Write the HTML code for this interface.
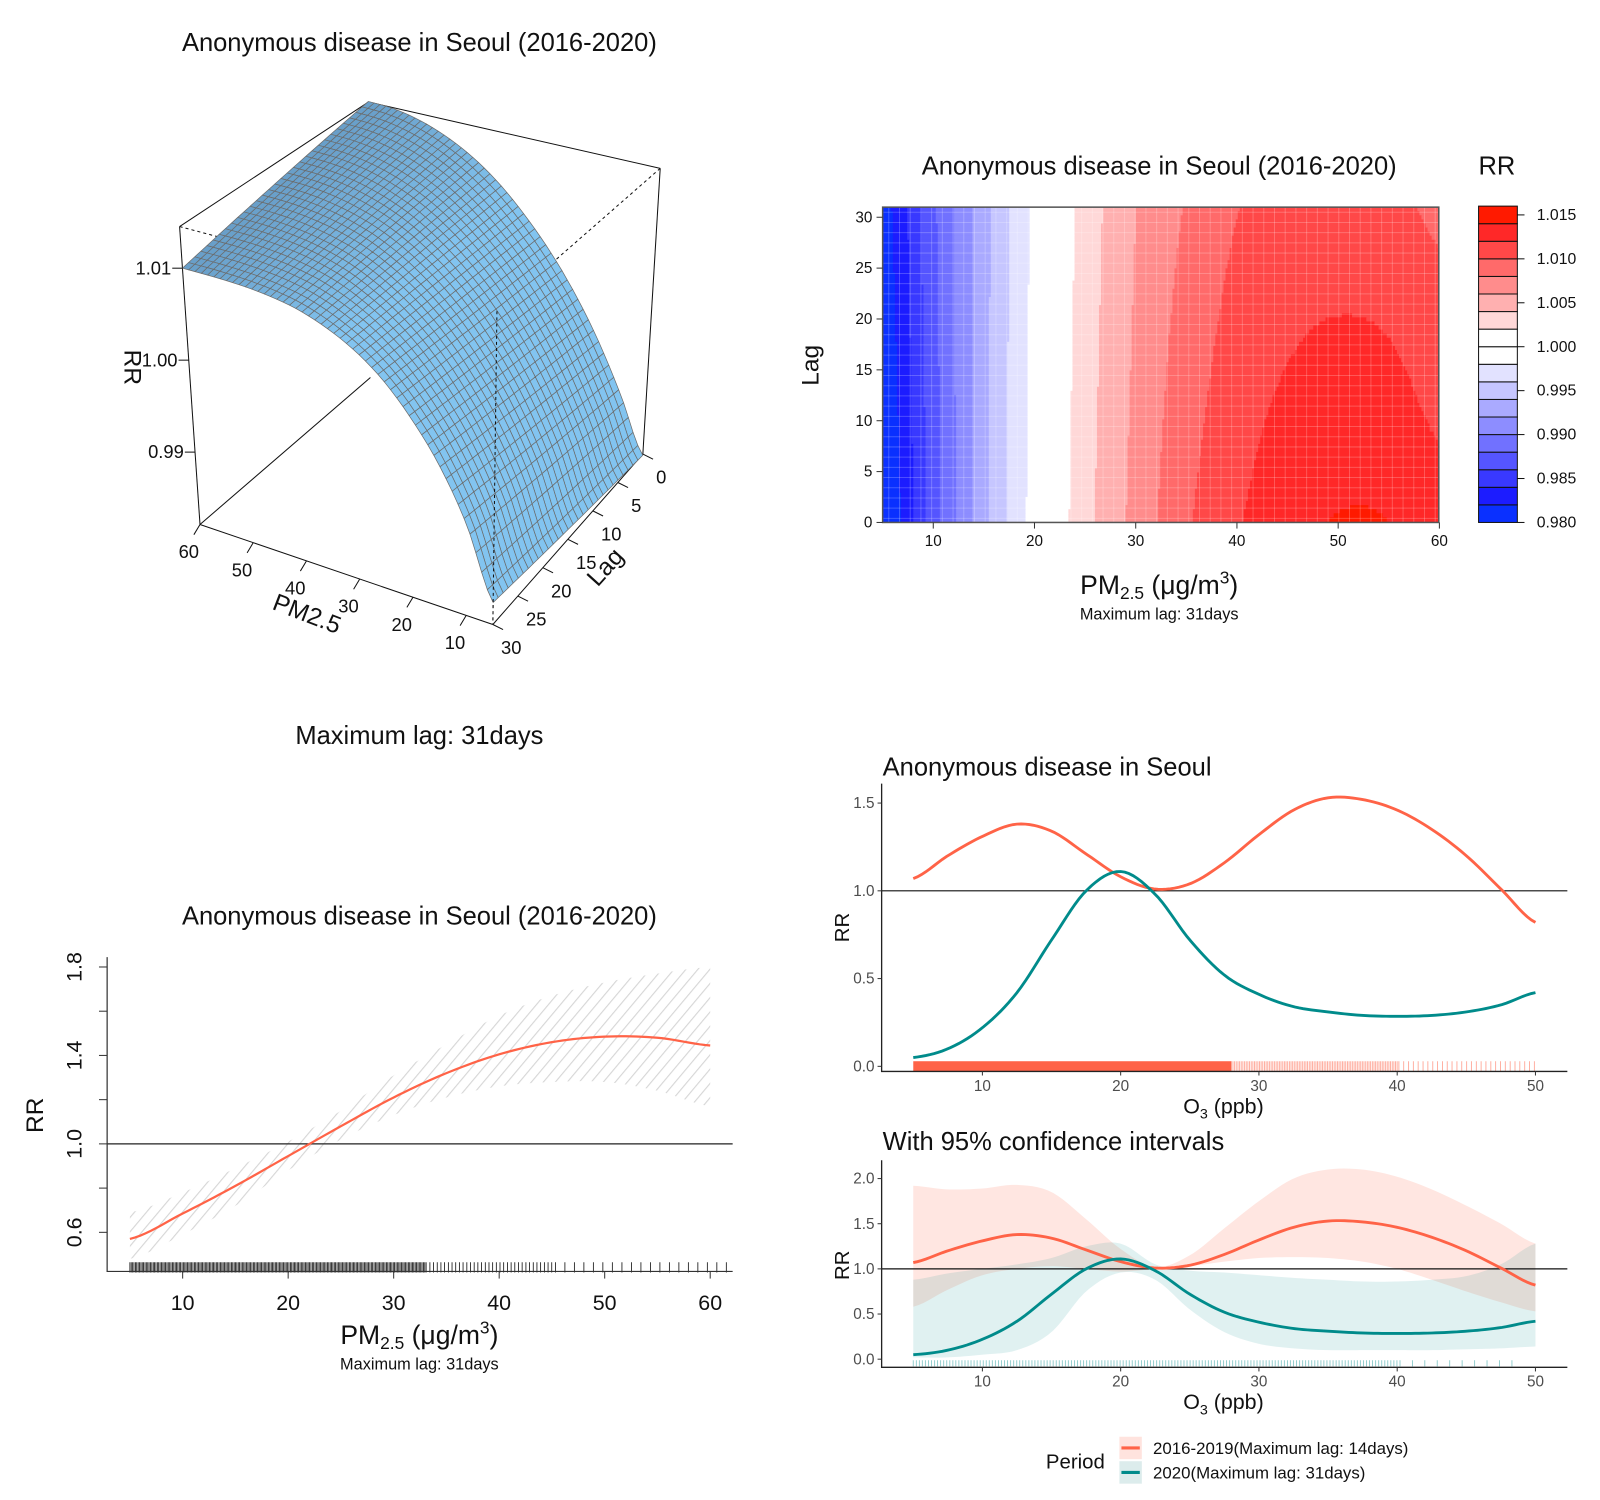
<!DOCTYPE html>
<html><head><meta charset="utf-8"><style>
html,body{margin:0;padding:0;background:#fff;}
svg{display:block;font-family:"Liberation Sans",sans-serif;}
</style></head><body>
<svg id="chart" width="1600" height="1500" viewBox="0 0 1568 1470" preserveAspectRatio="none" xmlns="http://www.w3.org/2000/svg">
<defs>
<pattern id="hatch" patternUnits="userSpaceOnUse" width="9" height="9" patternTransform="rotate(40)">
<line x1="0" y1="0" x2="0" y2="9" stroke="#d6d6d6" stroke-width="2.2"/>
</pattern>
</defs>
<rect x="0" y="0" width="1568" height="1470" fill="#fff"/>
<!-- panel 1 -->
<text x="411" y="50" font-size="25" text-anchor="middle" fill="#111">Anonymous disease in Seoul (2016-2020)</text>
<g id="p1"></g>
<text transform="translate(122,360) rotate(90)" font-size="24" text-anchor="middle" fill="#111">RR</text>
<text transform="translate(298,609) rotate(21)" font-size="24" text-anchor="middle" fill="#111">PM2.5</text>
<text transform="translate(599,561) rotate(-48)" font-size="24" text-anchor="middle" fill="#111">Lag</text>
<!-- panel 2 -->
<text x="1136" y="171" font-size="25" text-anchor="middle" fill="#111">Anonymous disease in Seoul (2016-2020)</text>
<text x="1467" y="171" font-size="25" text-anchor="middle" fill="#111">RR</text>
<g id="p2"></g>
<text transform="translate(802,358) rotate(-90)" font-size="24" text-anchor="middle" fill="#111">Lag</text>
<text x="1136" y="582" font-size="26" text-anchor="middle" fill="#111">PM<tspan font-size="17" dy="5">2.5</tspan><tspan dy="-5"> (μg/m</tspan><tspan font-size="17" dy="-10">3</tspan><tspan dy="10">)</tspan></text>
<text x="1136" y="607" font-size="16" text-anchor="middle" fill="#111">Maximum lag: 31days</text>
<!-- panel 3 -->
<text x="411" y="729" font-size="25" text-anchor="middle" fill="#111">Maximum lag: 31days</text>
<text x="411" y="906" font-size="25" text-anchor="middle" fill="#111">Anonymous disease in Seoul (2016-2020)</text>
<g id="p3"></g>
<text transform="translate(42,1093) rotate(-90)" font-size="24" text-anchor="middle" fill="#111">RR</text>
<text x="411" y="1317" font-size="26" text-anchor="middle" fill="#111">PM<tspan font-size="17" dy="5">2.5</tspan><tspan dy="-5"> (μg/m</tspan><tspan font-size="17" dy="-10">3</tspan><tspan dy="10">)</tspan></text>
<text x="411" y="1342" font-size="16" text-anchor="middle" fill="#111">Maximum lag: 31days</text>
<!-- panel 4 -->
<text x="865" y="760" font-size="25" fill="#111">Anonymous disease in Seoul</text>
<g id="p4"></g>
<text transform="translate(832,909) rotate(-90)" font-size="20" text-anchor="middle" fill="#111">RR</text>
<text x="1199" y="1091" font-size="21" text-anchor="middle" fill="#111">O<tspan font-size="14" dy="5">3</tspan><tspan dy="-5"> (ppb)</tspan></text>
<!-- panel 5 -->
<text x="865" y="1127" font-size="25" fill="#111">With 95% confidence intervals</text>
<g id="p5"></g>
<text transform="translate(832,1240) rotate(-90)" font-size="20" text-anchor="middle" fill="#111">RR</text>
<text x="1199" y="1381" font-size="21" text-anchor="middle" fill="#111">O<tspan font-size="14" dy="5">3</tspan><tspan dy="-5"> (ppb)</tspan></text>
<!-- legend -->
<g>
<text x="1025" y="1439" font-size="20" fill="#111">Period</text>
<g>
<rect x="1097" y="1408" width="22" height="22" fill="#ffe3de"/>
<line x1="1099" y1="1419" x2="1117" y2="1419" stroke="#ff6347" stroke-width="3"/>
<text x="1130" y="1425" font-size="16.5" fill="#111">2016-2019(Maximum lag: 14days)</text>
</g>
<g>
<rect x="1097" y="1432" width="22" height="22" fill="#dcecec"/>
<line x1="1099" y1="1443" x2="1117" y2="1443" stroke="#008b8b" stroke-width="3"/>
<text x="1130" y="1449" font-size="16.5" fill="#111">2020(Maximum lag: 31days)</text>
</g>
</g>
</svg>
<script>
// ---------- data ----------
const surfPM = [5,10,15,20,25,30,35,40,45,50,55,60];
const surfLag0 = [0.9820,0.9880,0.9935,0.9982,1.0022,1.0056,1.0085,1.0108,1.0125,1.0137,1.0144,1.0146];
const surfLag30 = [0.9844,0.9915,0.9968,1.0008,1.0040,1.0063,1.0079,1.0090,1.0096,1.0099,1.0100,1.0100];
const surfZTicks = [0.99,1.00,1.01];
const surfPMTicks = [10,20,30,40,50,60];
const surfLagTicks = [0,5,10,15,20,25,30];

const contPM = [5,10,15,20,25,30,35,40,45,50,55,60];
const contLag0 = [0.9800,0.9870,0.9935,0.9988,1.0033,1.0066,1.0097,1.0118,1.0133,1.0141,1.0140,1.0128];
const contLag30 = [0.9812,0.9876,0.9933,0.9985,1.0028,1.0060,1.0082,1.0100,1.0108,1.0110,1.0107,1.0097];
const contLevelColors = ['#0a30ff','#1c1cff','#3939ff','#5555ff','#7171ff','#8d8dff','#aaaaff','#c6c6ff','#e2e2ff','#ffffff','#ffffff','#ffd8d8','#ffb0b0','#ff8c8c','#ff6a6a','#ff4848','#ff2828','#ff1a00'];
const contBarLabels = ['0.980','0.985','0.990','0.995','1.000','1.005','1.010','1.015'];
const contXTicks = [10,20,30,40,50,60];
const contYTicks = [0,5,10,15,20,25,30];

const ovPM = [5,10,15,20,25,30,35,40,45,50,55,60];
const ovFit = [0.57,0.685,0.81,0.945,1.08,1.21,1.32,1.405,1.46,1.485,1.48,1.445];
const ovLow = [0.48,0.59,0.72,0.88,1.02,1.13,1.21,1.26,1.28,1.28,1.24,1.17];
const ovHigh = [0.69,0.78,0.89,1.01,1.15,1.31,1.45,1.58,1.67,1.73,1.77,1.80];
const ovYTicks = [0.6,1.0,1.4,1.8];
const ovYMinor = [0.8,1.2,1.6];
const ovXTicks = [10,20,30,40,50,60];

const o3X = [5,7.5,10,12.5,15,17.5,20,22.5,25,27.5,30,32.5,35,37.5,40,42.5,45,47.5,50];
const fit1619 = [1.07,1.20,1.31,1.38,1.34,1.21,1.08,1.01,1.04,1.16,1.32,1.46,1.53,1.52,1.46,1.35,1.20,1.01,0.82];
const fit2020 = [0.05,0.10,0.22,0.42,0.72,1.00,1.11,0.98,0.72,0.52,0.41,0.34,0.31,0.29,0.285,0.29,0.31,0.35,0.42];
const low1619 = [0.58,0.77,0.93,1.00,1.03,1.00,0.97,1.00,1.03,1.08,1.12,1.13,1.12,1.08,1.00,0.88,0.75,0.63,0.53];
const high1619 = [1.92,1.88,1.89,1.93,1.85,1.55,1.22,1.02,1.15,1.45,1.75,2.00,2.10,2.10,2.02,1.88,1.70,1.50,1.28];
const low2020 = [0.02,0.02,0.05,0.10,0.30,0.75,0.96,0.88,0.55,0.30,0.17,0.12,0.10,0.10,0.10,0.10,0.11,0.12,0.14];
const high2020 = [0.88,0.95,1.00,1.05,1.12,1.25,1.28,1.05,0.98,0.96,0.93,0.90,0.88,0.86,0.86,0.88,0.92,1.05,1.28];
const o3XTicks = [10,20,30,40,50];
const o3YTicks1 = [0.0,0.5,1.0,1.5];
const o3YTicks2 = [0.0,0.5,1.0,1.5,2.0];

// ---------- helpers ----------
const NS = 'http://www.w3.org/2000/svg';
function mk(tag, attrs, parent){
  const e = document.createElementNS(NS, tag);
  for (const k in attrs) e.setAttribute(k, attrs[k]);
  parent.appendChild(e);
  return e;
}
function cr(xs, ys, x){
  let i = 0;
  while (i < xs.length - 2 && x > xs[i+1]) i++;
  const t = Math.max(-0.2, Math.min(1.2, (x - xs[i]) / (xs[i+1] - xs[i])));
  const p0 = ys[Math.max(0,i-1)], p1 = ys[i], p2 = ys[i+1], p3 = ys[Math.min(ys.length-1,i+2)];
  return 0.5*((2*p1)+(-p0+p2)*t+(2*p0-5*p1+4*p2-p3)*t*t+(-p0+3*p1-3*p2+p3)*t*t*t);
}
function curvePath(xs, ys, fx, fy, n){
  let d = '';
  const a = xs[0], b = xs[xs.length-1];
  for (let k = 0; k <= n; k++){
    const x = a + (b-a)*k/n;
    d += (k ? 'L' : 'M') + fx(x).toFixed(2) + ',' + fy(cr(xs, ys, x)).toFixed(2);
  }
  return d;
}
function bandPath(xs, lo, hi, fx, fy, n){
  const a = xs[0], b = xs[xs.length-1];
  let d = '';
  for (let k = 0; k <= n; k++){ const x=a+(b-a)*k/n; d += (k?'L':'M')+fx(x).toFixed(2)+','+fy(cr(xs,hi,x)).toFixed(2); }
  for (let k = n; k >= 0; k--){ const x=a+(b-a)*k/n; d += 'L'+fx(x).toFixed(2)+','+fy(cr(xs,lo,x)).toFixed(2); }
  return d + 'Z';
}

// ---------- panel 1: 3D surface ----------
(function(){
  const g = document.getElementById('p1');
  const F=[483,612], G=[630,445], E=[196,514], H=[363,370];
  const D=[487,305], B=[647,165], C=[176,222], A=[361,100];
  const Z0 = 0.98213, Z1 = 1.01453;
  function bil(pF,pG,pE,pH,u,v){
    const x = (1-u)*((1-v)*pG[0]+v*pF[0]) + u*((1-v)*pH[0]+v*pE[0]);
    const y = (1-u)*((1-v)*pG[1]+v*pF[1]) + u*((1-v)*pH[1]+v*pE[1]);
    return [x,y];
  }
  function proj(u,v,w){
    const b = bil(F,G,E,H,u,v), t = bil(D,B,C,A,u,v);
    return [b[0]+(t[0]-b[0])*w, b[1]+(t[1]-b[1])*w];
  }
  function surf(pm, lag){
    const a = cr(surfPM, surfLag0, pm), b = cr(surfPM, surfLag30, pm);
    return a + (b-a)*lag/30;
  }
  const wOf = z => (z - Z0)/(Z1 - Z0);
  const ln = (p,q,dash,name)=>{
    const l = mk('line',{x1:p[0],y1:p[1],x2:q[0],y2:q[1],stroke:'#111','stroke-width':1,'stroke-dasharray':dash||'none'},g);
    
    
  };
  ln(C,D,'3,3','box-edge-hidden'); ln(B,D,'3,3','box-edge-hidden'); ln(D,F,'3,3','box-edge-hidden');
  ln(E,H,null,'box-edge');
  ln(A,C,null,'box-edge'); ln(A,B,null,'box-edge');
  ln(C,E,null,'box-edge'); ln(B,G,null,'box-edge');
  ln(E,F,null,'box-edge'); ln(F,G,null,'box-edge');
  const NU = 50, NV = 30;
  const quads = [];
  for (let i = 0; i < NU; i++){
    for (let j = 0; j < NV; j++){
      const u0=i/NU, u1=(i+1)/NU, v0=j/NV, v1=(j+1)/NV;
      const pts = [[u0,v0],[u1,v0],[u1,v1],[u0,v1]].map(([u,v])=>{
        const pm = 5+u*55, lag = v*30;
        return proj(u,v,wOf(surf(pm,lag)));
      });
      const pmm = 5+(u0+u1)/2*55;
      const slope = Math.abs(cr(surfPM,surfLag0,pmm+1)-cr(surfPM,surfLag0,pmm-1))/2/(Z1-Z0)*55;
      quads.push({pts, depth: (u0+u1)/2 + (1-(v0+v1)/2), slope});
    }
  }
  quads.sort((a,b)=>b.depth-a.depth);
  const dark=[104,158,200], light=[130,196,240];
  for (const q of quads){
    const t = Math.min(1, q.slope/1.0);
    const c = dark.map((d,k)=>Math.round(d+(light[k]-d)*t));
    const p = mk('polygon',{points:q.pts.map(p=>p[0].toFixed(1)+','+p[1].toFixed(1)).join(' '),fill:'rgb('+c.join(',')+')',stroke:'#6b6b6b','stroke-width':0.7,'stroke-linejoin':'round'},g);
    
    
  }
  ln(D,F,'3,3','box-edge-hidden');
  for (const z of surfZTicks){
    const p = proj(1,1,wOf(z));
    const t = mk('line',{x1:p[0],y1:p[1],x2:p[0]-10,y2:p[1],stroke:'#111'},g);
    
    
    const tx = mk('text',{x:p[0]-11,y:p[1]+6,'font-size':18,'text-anchor':'end',fill:'#111'},g);
    
    
    tx.textContent = z.toFixed(2);
  }
  for (const pm of surfPMTicks){
    const p = proj((pm-5)/55,1,0);
    const t = mk('line',{x1:p[0],y1:p[1],x2:p[0]-6,y2:p[1]+10,stroke:'#111'},g);
    
    
    const tx = mk('text',{x:p[0]-11,y:p[1]+33,'font-size':18,'text-anchor':'middle',fill:'#111'},g);
    
    
    tx.textContent = pm;
  }
  for (const lag of surfLagTicks){
    const p = proj(0,lag/30,0);
    const t = mk('line',{x1:p[0],y1:p[1],x2:p[0]+10,y2:p[1]+5,stroke:'#111'},g);
    
    
    const tx = mk('text',{x:p[0]+18,y:p[1]+29,'font-size':18,'text-anchor':'middle',fill:'#111'},g);
    
    
    tx.textContent = lag;
  }
})();

// ---------- panel 2: contour ----------
(function(){
  const g = document.getElementById('p2');
  const x = pm => 865 + (pm-5)*9.92;
  const y = lag => 512 - lag*9.97;
  const val = (pm,lag)=>{ const a=cr(contPM,contLag0,pm), b=cr(contPM,contLag30,pm); return a+(b-a)*lag/30; };
  const lvl = v => Math.max(0, Math.min(17, Math.floor((v-0.98)/0.002)));
  const x0=865, x1=1410, y0=203, y1=512, dx=2, dy=4;
  for (let py=y0; py<y1; py+=dy){
    const lag = (512-(py+dy/2))/9.97;
    let runStart = x0, runL = -1;
    const flush = (px)=>{
      if (runL >= 0){
        const r = mk('rect',{x:runStart,y:py,width:Math.min(px,x1)-runStart+0.5,height:Math.min(dy,y1-py)+0.5,fill:contLevelColors[runL]},g);
        
        
      }
    };
    for (let px=x0; px<x1; px+=dx){
      const L = lvl(val(5+(px+dx/2-865)/9.92, lag));
      if (L !== runL){ flush(px); runStart = px; runL = L; }
    }
    flush(x1);
  }
  for (let px=x0+6; px<x1; px+=10.5){
    const l = mk('line',{x1:px,y1:y0,x2:px,y2:y1,stroke:'#fff','stroke-opacity':0.22,'stroke-width':1},g);
    
    
  }
  for (let py=y0+5; py<y1; py+=10){
    const l = mk('line',{x1:x0,y1:py,x2:x1,y2:py,stroke:'#fff','stroke-opacity':0.22,'stroke-width':1},g);
    
    
  }
  const fr = mk('rect',{x:x0,y:y0,width:x1-x0,height:y1-y0,fill:'none',stroke:'#555','stroke-width':1.5},g);
  
  
  for (const t of contXTicks){
    const l = mk('line',{x1:x(t),y1:y1,x2:x(t),y2:y1+6,stroke:'#333'},g);
    
    
    const tx = mk('text',{x:x(t),y:y1+23,'font-size':15,'text-anchor':'middle',fill:'#111'},g);
    
    
    tx.textContent = t;
  }
  for (const t of contYTicks){
    const l = mk('line',{x1:x0-6,y1:y(t),x2:x0,y2:y(t),stroke:'#333'},g);
    
    
    const tx = mk('text',{x:x0-10,y:y(t)+5,'font-size':15,'text-anchor':'end',fill:'#111'},g);
    
    
    tx.textContent = t;
  }
  const yb = v => 512 - (v-0.98)/0.036*310;
  for (let i=0;i<18;i++){
    const r = mk('rect',{x:1449,y:yb(0.98+0.002*(i+1)),width:38,height:310/18,fill:contLevelColors[i],stroke:'#111','stroke-width':1},g);
    
    
  }
  for (const s of contBarLabels){
    const v = parseFloat(s);
    const l = mk('line',{x1:1487,y1:yb(v),x2:1494,y2:yb(v),stroke:'#111'},g);
    
    
    const tx = mk('text',{x:1506,y:yb(v)+5,'font-size':15.5,fill:'#111'},g);
    
    
    tx.textContent = s;
  }
})();

// ---------- panel 3: overall ----------
(function(){
  const g = document.getElementById('p3');
  const x = pm => 127.3 + (pm-5)*10.34;
  const y = r => 1121 - (r-1)*216.7;
  const band = mk('path',{d:bandPath(ovPM,ovLow,ovHigh,x,y,110),fill:'url(#hatch)'},g);
  
  
  const h = mk('line',{x1:105,y1:y(1),x2:718,y2:y(1),stroke:'#222','stroke-width':1.2},g);
  
  
  const c = mk('path',{d:curvePath(ovPM,ovFit,x,y,110),fill:'none',stroke:'#ff6347','stroke-width':2.2},g);
  
  
  let d = '';
  for (let v=5; v<62; v += (v<33?0.13:(v<45?0.35:0.9))) d += 'M'+x(v).toFixed(1)+',1237V1247';
  const rug = mk('path',{d:d,stroke:'#111','stroke-width':0.8},g);
  
  
  const ax = mk('path',{d:'M105,938V1246H718',fill:'none',stroke:'#333','stroke-width':1.2},g);
  
  
  for (const t of ovYTicks){
    const l = mk('line',{x1:97,y1:y(t),x2:105,y2:y(t),stroke:'#333'},g);
    
    
    const tx = mk('text',{transform:'translate(80,'+y(t)+') rotate(-90)','font-size':21,'text-anchor':'middle',fill:'#111'},g);
    
    
    tx.textContent = t.toFixed(1);
  }
  for (const t of ovYMinor){
    const l = mk('line',{x1:97,y1:y(t),x2:105,y2:y(t),stroke:'#333'},g);
    
    
  }
  for (const t of ovXTicks){
    const l = mk('line',{x1:x(t),y1:1246,x2:x(t),y2:1253,stroke:'#333'},g);
    
    
    const tx = mk('text',{x:x(t),y:1284,'font-size':21,'text-anchor':'middle',fill:'#111'},g);
    
    
    tx.textContent = t;
  }
})();

// ---------- panels 4 & 5: O3 ----------
function o3Panel(gid, y, yticks, withCI, rugColor, rugTop, rugBot, axTop, axBot){
  const g = document.getElementById(gid);
  const x = o => 895 + (o-5)*13.55;
  if (withCI){
    const b1 = mk('path',{d:bandPath(o3X,low1619,high1619,x,y,120),fill:'#ff6347','fill-opacity':0.16},g);
    
    
    const b2 = mk('path',{d:bandPath(o3X,low2020,high2020,x,y,120),fill:'#008b8b','fill-opacity':0.12},g);
    
    
  }
  if (rugColor === '#ff6347'){
    const solid = mk('rect',{x:x(5),y:rugTop,width:x(28)-x(5),height:rugBot-rugTop,fill:'#ff6347'},g);
    
    
    let d = '';
    for (let v=28; v<=50; v += (v<40?0.12:0.35)) d += 'M'+x(v).toFixed(1)+','+rugTop+'V'+rugBot;
    const rug = mk('path',{d:d,stroke:rugColor,'stroke-width':0.9,'stroke-opacity':0.55},g);
    
    
  } else {
    let d = '';
    for (let v=5; v<=49; v += (v<40?0.22:0.9)) d += 'M'+x(v).toFixed(1)+','+rugTop+'V'+rugBot;
    const rug = mk('path',{d:d,stroke:rugColor,'stroke-width':0.9,'stroke-opacity':0.45},g);
    
    
  }
  const h = mk('line',{x1:864,y1:y(1),x2:1536,y2:y(1),stroke:'#111','stroke-width':1.2},g);
  
  
  const c1 = mk('path',{d:curvePath(o3X,fit1619,x,y,150),fill:'none',stroke:'#ff6347','stroke-width':2.8},g);
  
  
  const c2 = mk('path',{d:curvePath(o3X,fit2020,x,y,150),fill:'none',stroke:'#008b8b','stroke-width':2.8},g);
  
  
  const ax = mk('path',{d:'M864,'+axTop+'V'+axBot+'H1536',fill:'none',stroke:'#222','stroke-width':1.3},g);
  
  
  for (const t of yticks){
    const l = mk('line',{x1:860,y1:y(t),x2:864,y2:y(t),stroke:'#333'},g);
    
    
    const tx = mk('text',{x:857,y:y(t)+5,'font-size':15,'text-anchor':'end',fill:'#4d4d4d'},g);
    
    
    tx.textContent = t.toFixed(1);
  }
  for (const t of o3XTicks){
    const l = mk('line',{x1:x(t),y1:axBot,x2:x(t),y2:axBot+4,stroke:'#333'},g);
    
    
    const tx = mk('text',{x:x(t),y:axBot+19,'font-size':15,'text-anchor':'middle',fill:'#4d4d4d'},g);
    
    
    tx.textContent = t;
  }
}
o3Panel('p4', r => 1045 - r*172, o3YTicks1, false, '#ff6347', 1040, 1050, 768, 1050);
o3Panel('p5', r => 1332 - r*88.5, o3YTicks2, true, '#008b8b', 1333, 1339, 1137, 1340);
</script>
</body></html>
